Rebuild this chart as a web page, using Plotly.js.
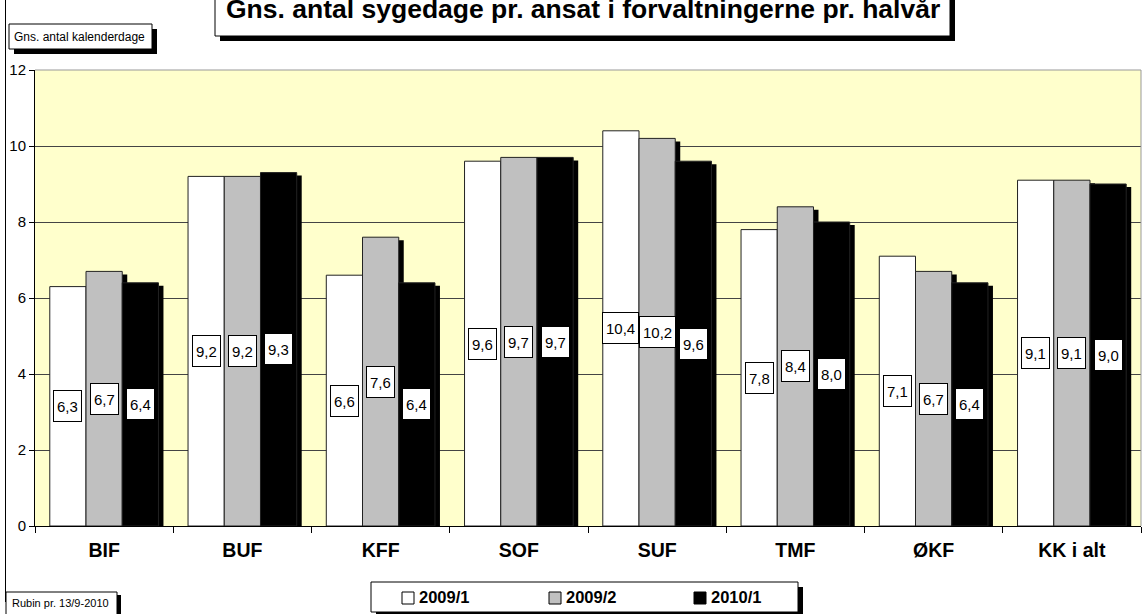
<!DOCTYPE html>
<html>
<head>
<meta charset="utf-8">
<script src="https://cdn.plot.ly/plotly-3.0.1.min.js"></script>
<style>html,body{margin:0;padding:0;background:#fff;}#chart{width:1145px;height:614px;}</style>
</head>
<body>
<div id="chart"></div>
<script>
const categories = ['BIF','BUF','KFF','SOF','SUF','TMF','ØKF','KK i alt'];
const seriesNames = ['2009/1','2009/2','2010/1'];
const s2009_1 = [6.3, 9.2, 6.6, 9.6, 10.4, 7.8, 7.1, 9.1];
const s2009_2 = [6.7, 9.2, 7.6, 9.7, 10.2, 8.4, 6.7, 9.1];
const s2010_1 = [6.4, 9.3, 6.4, 9.7, 9.6, 8.0, 6.4, 9.0];
const yTicks = [0, 2, 4, 6, 8, 10, 12];
const titleText = 'Gns. antal sygedage pr. ansat i forvaltningerne pr. halvår';
const yTitleText = 'Gns. antal kalenderdage';
const sourceText = 'Rubin pr. 13/9-2010';

const FONT = 'Arial, "Liberation Sans", sans-serif';
const colors = ['#FFFFFF', '#C0C0C0', '#000000'];
const series = [s2009_1, s2009_2, s2010_1];

// layout geometry (pixels)
const L = 35, R = 1141, T = 70, B = 526;
const W = R - L, H = B - T;
const X = px => (px - L) / W;
const Y = py => (B - py) / H;
const catPx = W / categories.length;
const barW = 0.262;
const offsets = [-1.5 * barW, -0.5 * barW, 0.5 * barW];
const shadowDx = 5 / catPx;
const shadowDy = 3 / (H / 12);

const traces = [];
// shadows for gray and black series
[1, 2].forEach(i => {
  traces.push({
    type: 'bar', x: categories, y: series[i].map(v => v - shadowDy),
    width: barW, offset: offsets[i] + shadowDx,
    marker: {color: '#000000', line: {width: 0}},
    showlegend: false, hoverinfo: 'skip'
  });
});
series.forEach((s, i) => {
  traces.push({
    type: 'bar', name: seriesNames[i], x: categories, y: s,
    width: barW, offset: offsets[i],
    marker: {color: colors[i], line: {color: '#222', width: 1}},
    showlegend: false
  });
});

const shapes = [];
const annotations = [];
function box(x0, y0, x1, y1, sh) {
  if (sh) shapes.push({type: 'rect', xref: 'paper', yref: 'paper', x0: X(x0 + sh[0]), x1: X(x1 + sh[0]), y0: Y(y1 + sh[1]), y1: Y(y0 + sh[1]), fillcolor: '#000', line: {width: 0}});
  shapes.push({type: 'rect', xref: 'paper', yref: 'paper', x0: X(x0), x1: X(x1), y0: Y(y1), y1: Y(y0), fillcolor: '#fff', line: {color: '#000', width: 1}});
}
// left border line
shapes.push({type: 'line', xref: 'paper', yref: 'paper', x0: X(5.5), x1: X(5.5), y0: Y(-5), y1: Y(602), line: {color: '#000', width: 1}});
// plot top/right border
shapes.push({type: 'line', xref: 'paper', yref: 'paper', x0: 0, x1: 1, y0: 1, y1: 1, line: {color: '#999', width: 1}});
shapes.push({type: 'line', xref: 'paper', yref: 'paper', x0: 1, x1: 1, y0: 0, y1: 1, line: {color: '#999', width: 1}});

// title box
box(215, -30, 950, 36, [5, 5]);
annotations.push({xref: 'paper', yref: 'paper', x: X(583), y: Y(9), text: titleText, showarrow: false, xanchor: 'center', yanchor: 'middle', font: {family: FONT, size: 26.5, weight: 'bold', color: '#000'}});
// y title box
box(9, 24, 152, 49, [5, 5]);
annotations.push({xref: 'paper', yref: 'paper', x: X(12), y: Y(37), text: yTitleText, showarrow: false, xanchor: 'left', yanchor: 'middle', font: {family: FONT, size: 12, color: '#000'}});
// source box
box(6, 592, 117, 630, [4, 3]);
annotations.push({xref: 'paper', yref: 'paper', x: X(10), y: Y(603), text: sourceText, showarrow: false, xanchor: 'left', yanchor: 'middle', font: {family: FONT, size: 11, color: '#000'}});
// legend
box(371, 582, 798, 612, [5, 5]);
const legSq = [402, 549, 694];
seriesNames.forEach((n, i) => {
  shapes.push({type: 'rect', xref: 'paper', yref: 'paper', x0: X(legSq[i]), x1: X(legSq[i] + 12), y0: Y(604), y1: Y(592), fillcolor: colors[i], line: {color: '#000', width: 1}});
  annotations.push({xref: 'paper', yref: 'paper', x: X(legSq[i] + 15), y: Y(597), text: n, showarrow: false, xanchor: 'left', yanchor: 'middle', font: {family: FONT, size: 16.5, weight: 'bold', color: '#000'}});
});

// data labels
series.forEach((s, i) => {
  s.forEach((v, j) => {
    annotations.push({
      x: categories[j], y: v / 2, xref: 'x', yref: 'y',
      xshift: (i - 1) * barW * catPx,
      text: v.toFixed(1).replace('.', ','), showarrow: false,
      bgcolor: '#fff', bordercolor: '#000', borderwidth: 1, borderpad: 3, height: 24,
      font: {family: FONT, size: 15, color: '#000'}
    });
  });
});

const layout = {
  width: 1145, height: 614,
  margin: {l: L, r: 1145 - R, t: T, b: 614 - B, pad: 0},
  paper_bgcolor: '#fff', plot_bgcolor: '#FFFFCC',
  barmode: 'overlay', showlegend: false,
  font: {family: FONT, color: '#000'},
  xaxis: {
    type: 'category', categoryorder: 'array', categoryarray: categories,
    showline: true, linecolor: '#000', linewidth: 1,
    ticks: 'outside', tickson: 'boundaries', ticklen: 6, tickcolor: '#000',
    showgrid: false, zeroline: false,
    tickfont: {family: FONT, size: 19.5, weight: 'bold', color: '#000'},
    ticklabelstandoff: 7
  },
  yaxis: {
    range: [0, 12], tickvals: yTicks, ticktext: yTicks.map(String),
    showline: true, linecolor: '#000', linewidth: 1,
    ticks: 'outside', ticklen: 5, tickcolor: '#000',
    showgrid: true, gridcolor: '#444', gridwidth: 1, zeroline: false,
    tickfont: {family: FONT, size: 15, color: '#000'}
  },
  shapes: shapes, annotations: annotations
};

Plotly.newPlot('chart', traces, layout, {staticPlot: true, displayModeBar: false});
</script>
</body>
</html>
